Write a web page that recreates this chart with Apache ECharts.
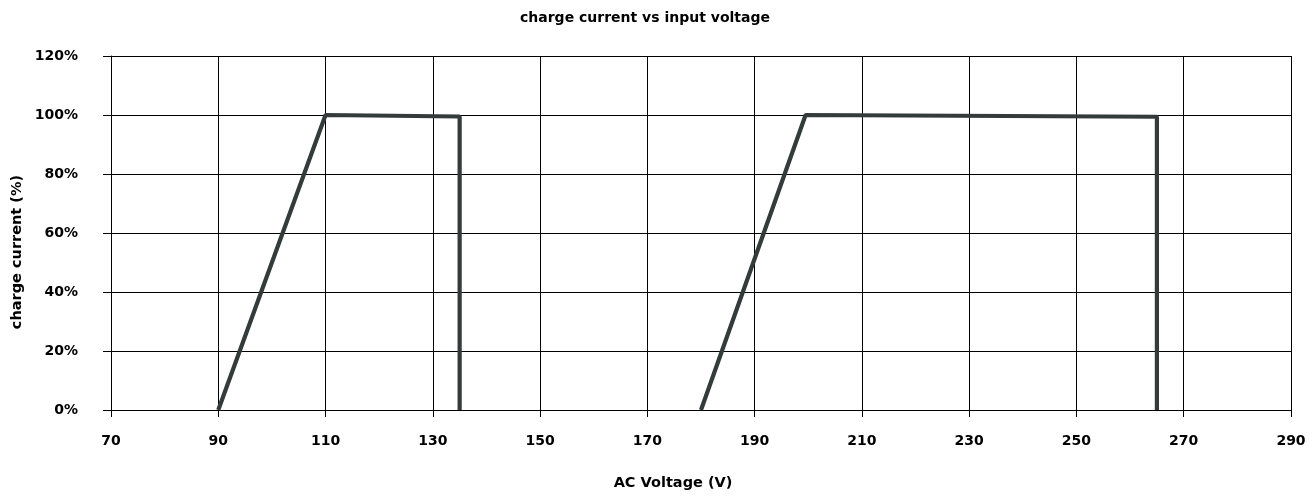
<!DOCTYPE html>
<html><head><meta charset="utf-8">
<script src="https://cdn.jsdelivr.net/npm/echarts@6/dist/echarts.min.js"></script>
<style>html,body{margin:0;padding:0;background:#fff}#c{width:1316px;height:496px}</style>
</head><body><div id="c"></div>
<script>
const titleText = 'charge current vs input voltage';
const xName = 'AC Voltage (V)';
const yName = 'charge current (%)';
const lowRangeV = [90, 110, 135, 135];
const lowRangePct = [0, 100, 99.5, 0];
const highRangeV = [180, 199.5, 265, 265];
const highRangePct = [0, 100, 99.4, 0];

const font = '"DejaVu Sans", "Liberation Sans", Arial, sans-serif';
const chart = echarts.init(document.getElementById('c'), null, {renderer: 'canvas'});
function pairs(xs, ys) { return xs.map((x, i) => [x, ys[i]]); }
const lineStyle = {color: '#333b3b', width: 4.2};
chart.setOption({
  animation: false,
  backgroundColor: '#fff',
  title: {text: titleText, left: 515, top: 6,
    textStyle: {fontFamily: font, fontSize: 14, fontWeight: 'bold', color: '#000'}},
  grid: {left: 111, right: 25, top: 56, bottom: 86, outerBoundsMode: 'none', containLabel: false},
  graphic: [
    {type: 'text', x: 17, y: 252, rotation: Math.PI / 2,
      style: {text: yName, fill: '#000', font: 'bold 14.5px ' + font, align: 'center', verticalAlign: 'middle'}},
    {type: 'text', x: 673, y: 483,
      style: {text: xName, fill: '#000', font: 'bold 14.5px ' + font, align: 'center', verticalAlign: 'middle'}}
  ],
  xAxis: {type: 'value', min: 70, max: 290, interval: 20,
    axisLine: {show: true, lineStyle: {color: '#000', width: 1}},
    axisTick: {show: true, length: 7, lineStyle: {color: '#000'}},
    axisLabel: {fontFamily: font, fontSize: 14, fontWeight: 'bold', color: '#000', margin: 24},
    splitLine: {show: true, lineStyle: {color: '#000', width: 1}}},
  yAxis: {type: 'value', min: 0, max: 120, interval: 20,
    axisLine: {show: true, lineStyle: {color: '#000', width: 1}},
    axisTick: {show: true, length: 8, lineStyle: {color: '#000'}},
    axisLabel: {formatter: '{value}%', fontFamily: font, fontSize: 14, fontWeight: 'bold', color: '#000', margin: 33},
    splitLine: {show: true, lineStyle: {color: '#000', width: 1}}},
  series: [
    {type: 'line', data: pairs(lowRangeV, lowRangePct), symbol: 'none', lineStyle: lineStyle, z: 5},
    {type: 'line', data: pairs(highRangeV, highRangePct), symbol: 'none', lineStyle: lineStyle, z: 5}
  ]
});
</script></body></html>
